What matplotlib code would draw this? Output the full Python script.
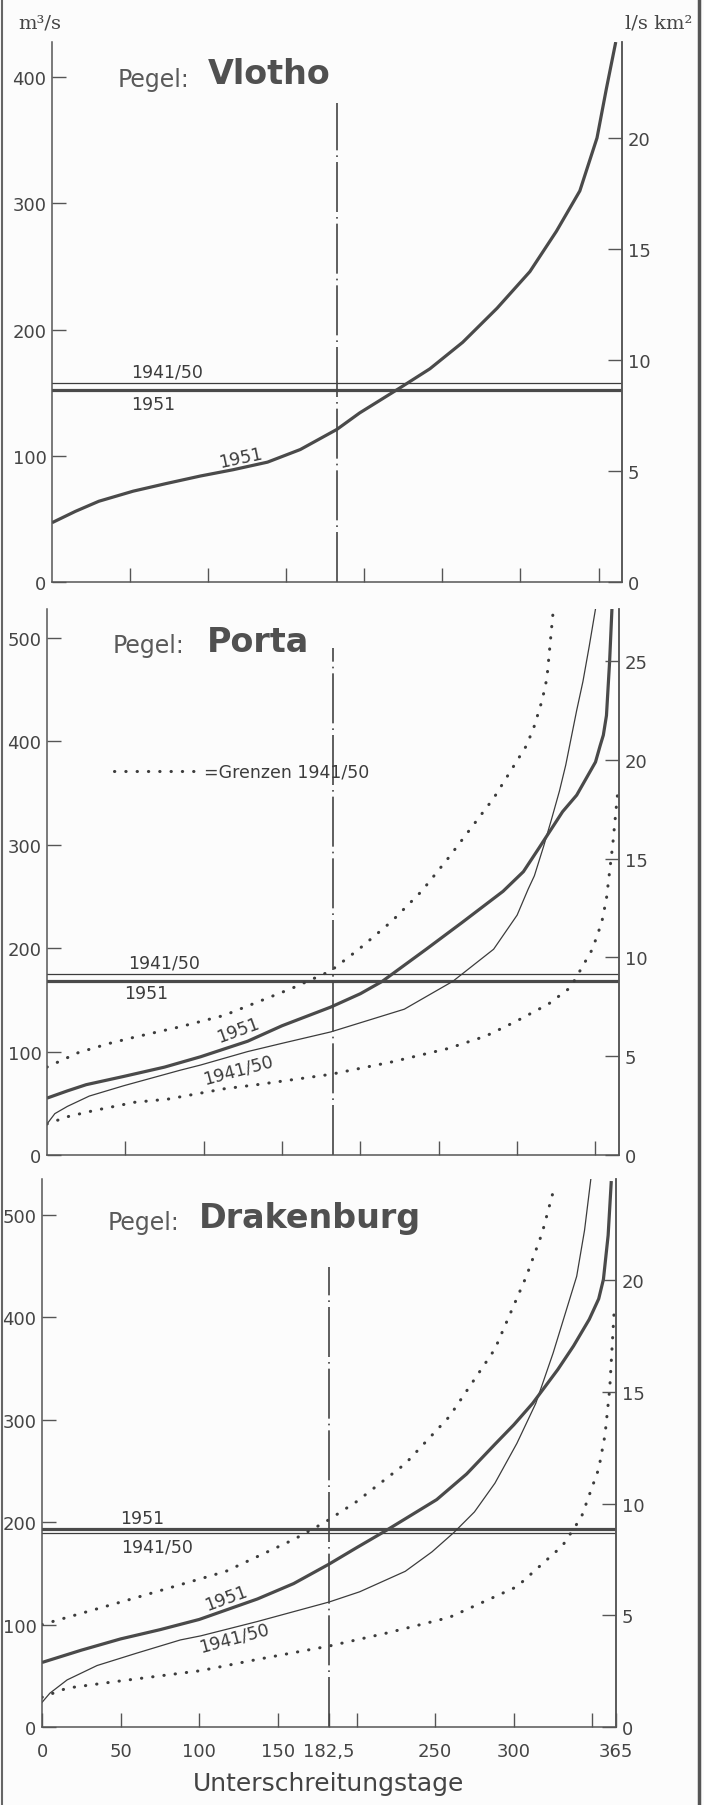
import matplotlib.pyplot as plt
from matplotlib.lines import Line2D

# Dauerlinien: Unterschreitungstage -> Abfluss m3/s
# Vlotho
v51_tage = [0, 15, 30, 52, 73, 95, 116, 138, 159, 182.5, 197, 210, 223, 242, 263, 285, 306, 323, 338, 349, 355, 361]
v51_q = [47, 56, 64, 72, 78, 84, 89, 95, 105, 121, 134, 144, 154, 169, 190, 217, 246, 278, 310, 352, 391, 428]
v_mq51 = 152
v_mq4150 = 158

# Porta
p51_tage = [0, 13, 25, 49, 75, 98, 128, 150, 181, 200, 214, 242, 265, 291, 304, 314, 329, 338, 344, 350, 353, 355, 357, 359, 360.5]
p51_q = [55, 62, 68, 76, 85, 95, 110, 125, 143, 156, 168, 199, 225, 255, 274, 297, 332, 348, 364, 380, 396, 406, 425, 477, 528]
p4150_tage = [0, 5, 13, 27, 49, 85, 98, 128, 150, 181, 228, 259, 285, 300, 307, 311, 317, 322, 327, 331, 338, 342, 346, 350]
p4150_q = [30, 40, 47, 57, 67, 82, 87, 100, 108, 119, 141, 168, 199, 232, 257, 270, 299, 325, 352, 377, 430, 458, 492, 528]
p_unten_tage = [0, 13, 30, 56, 77, 113, 134, 181, 220, 256, 280, 299, 320, 334, 348, 354, 357, 361, 364]
p_unten_q = [30, 37, 43, 51, 54, 64, 68, 78, 90, 103, 115, 129, 146, 162, 199, 225, 248, 300, 348]
p_oben_tage = [0, 20, 40, 56, 85, 113, 156, 181, 199, 220, 239, 256, 285, 306, 311, 316, 319, 323]
p_oben_q = [85, 99, 108, 114, 124, 135, 161, 178, 199, 226, 255, 287, 345, 396, 415, 440, 461, 526]
p_mq51 = 168
p_mq4150 = 175

# Drakenburg
d51_tage = [0, 25, 50, 75, 100, 137, 160, 182.5, 200, 219, 251, 270, 288, 300, 312, 328, 338, 348, 354, 357, 360, 362]
d51_q = [63, 75, 86, 95, 105, 125, 140, 159, 175, 192, 222, 247, 276, 295, 316, 349, 372, 398, 418, 437, 480, 533]
d4150_tage = [0, 5, 16, 35, 60, 88, 101, 137, 182.5, 202, 231, 248, 262, 275, 288, 302, 314, 325, 332, 340, 345, 349]
d4150_q = [24, 33, 46, 60, 72, 85, 89, 103, 122, 132, 152, 171, 190, 210, 238, 277, 316, 365, 400, 440, 485, 535]
d_unten_tage = [0, 16, 50, 101, 137, 182.5, 220, 259, 302, 331, 343, 350, 354, 358, 361, 364]
d_unten_q = [29, 38, 45, 55, 66, 79, 92, 107, 137, 177, 205, 235, 252, 285, 330, 411]
d_oben_tage = [0, 57, 117, 160, 180, 200, 231, 259, 288, 308, 318, 326]
d_oben_q = [100, 125, 152, 183, 200, 220, 257, 303, 369, 440, 482, 528]
d_mq51 = 193
d_mq4150 = 189

# Einzugsgebiete (1000 km2) fuer die rechte Skala l/s km2
flaeche = {"Vlotho": 17.6, "Porta": 19.1, "Drakenburg": 21.8}

W, H = 704, 1806
GRAU = "#4a4a4a"
TICKFONT = ["DejaVu Sans"]

fig = plt.figure(figsize=(W / 100, H / 100), dpi=100)
fig.patch.set_facecolor("#fcfcfc")


def achse(l, r, t, b, ytop, name, lticks, rticks, unten=False):
    ax = fig.add_axes([l / W, 1 - b / H, (r - l) / W, (b - t) / H])
    ax.set_facecolor("none")
    ax.set_xlim(0, 365)
    ax.set_ylim(0, ytop)
    ax.spines["top"].set_visible(False)
    for s in ["left", "bottom", "right"]:
        ax.spines[s].set_color("#555555")
        ax.spines[s].set_linewidth(1.1)
    ax.set_yticks(lticks)
    if unten:
        ax.set_xticks([0, 50, 100, 150, 182.5, 200, 250, 300, 350, 365])
        ax.set_xticklabels(["0", "50", "100", "150", "182,5", "", "250", "300", "", "365"])
    else:
        ax.set_xticks([50, 100, 150, 200, 250, 300, 350])
        ax.set_xticklabels([])
    ax.tick_params(direction="in", length=10, width=1, colors="#555555",
                   labelcolor="#444444", labelsize=13, pad=4)
    ax.tick_params(axis="x", pad=11)
    for lab in ax.get_xticklabels() + ax.get_yticklabels():
        lab.set_family(TICKFONT)
    ax2 = ax.twinx()
    ax2.set_ylim(0, ytop / flaeche[name])
    ax2.set_yticks(rticks)
    for s in ["top", "left", "bottom"]:
        ax2.spines[s].set_visible(False)
    ax2.spines["right"].set_color("#555555")
    ax2.spines["right"].set_linewidth(1.1)
    ax2.tick_params(direction="in", length=10, width=1, colors="#555555",
                    labelcolor="#444444", labelsize=13, pad=4)
    for lab in ax2.get_yticklabels():
        lab.set_family(TICKFONT)
    return ax


def titel(ax, y, name, x_name):
    ax.text(42, y, "Pegel:", fontsize=17, family=["DejaVu Sans"],
            color="#5a5a5a", va="center", ha="left")
    ax.text(x_name, y + 4, name, fontsize=24, family=["DejaVu Sans"],
            fontweight="bold", color="#505050", va="center", ha="left")


def dicke(ax, x, y):
    ax.plot(x, y, color=GRAU, lw=2.3, solid_capstyle="butt",
            solid_joinstyle="round")


def duenn(ax, x, y):
    ax.plot(x, y, color="#3c3c3c", lw=0.9)


def punkte(ax, x, y):
    ax.plot(x, y, color="#3c3c3c", lw=2.2, dashes=(0.1, 3.6),
            dash_capstyle="round")


def mittel(ax, q51, q4150):
    ax.axhline(q51, color=GRAU, lw=2.3)
    ax.axhline(q4150, color="#3c3c3c", lw=0.9)


def strichpunkt(ax, top):
    ax.plot([182.5, 182.5], [0, top], color="#444444", lw=1.2,
            dashes=(30, 3, 1, 3))


def beschrift(ax, x, y, s, rot=0):
    ax.text(x, y, s, fontsize=12.5, family=TICKFONT, color="#3c3c3c",
            rotation=rot, ha="center", va="center", rotation_mode="anchor")


# --- Vlotho
ax1 = achse(52, 622, 43, 583, 428, "Vlotho", [0, 100, 200, 300, 400], [0, 5, 10, 15, 20])
mittel(ax1, v_mq51, v_mq4150)
dicke(ax1, v51_tage, v51_q)
strichpunkt(ax1, 380)
titel(ax1, 399, "Vlotho", 100)
beschrift(ax1, 74, 167, "1941/50")
beschrift(ax1, 65, 141, "1951")
beschrift(ax1, 121, 99, "1951", 12)

# --- Porta
ax2 = achse(47, 619, 610, 1156, 528, "Porta", [0, 100, 200, 300, 400, 500], [0, 5, 10, 15, 20, 25])
mittel(ax2, p_mq51, p_mq4150)
punkte(ax2, p_oben_tage, p_oben_q)
punkte(ax2, p_unten_tage, p_unten_q)
duenn(ax2, p4150_tage, p4150_q)
dicke(ax2, p51_tage, p51_q)
strichpunkt(ax2, 490)
titel(ax2, 493, "Porta", 102)
ax2.plot([43, 98], [371, 371], color="#3c3c3c", lw=2.2, dashes=(0.1, 3.6),
         dash_capstyle="round")
ax2.text(100, 371, "=Grenzen 1941/50", fontsize=12.5, family=TICKFONT,
         color="#3c3c3c", va="center", ha="left")
beschrift(ax2, 75, 186, "1941/50")
beschrift(ax2, 63, 157, "1951")
beschrift(ax2, 122, 121, "1951", 20)
beschrift(ax2, 122, 83, "1941/50", 15)

# --- Drakenburg
ax3 = achse(42, 616, 1180, 1728, 535, "Drakenburg", [0, 100, 200, 300, 400, 500], [0, 5, 10, 15, 20], unten=True)
mittel(ax3, d_mq51, d_mq4150)
punkte(ax3, d_oben_tage, d_oben_q)
punkte(ax3, d_unten_tage, d_unten_q)
duenn(ax3, d4150_tage, d4150_q)
dicke(ax3, d51_tage, d51_q)
strichpunkt(ax3, 449)
titel(ax3, 493, "Drakenburg", 100)
beschrift(ax3, 64, 204, "1951")
beschrift(ax3, 73, 176, "1941/50")
beschrift(ax3, 117, 126, "1951", 20)
beschrift(ax3, 122, 87, "1941/50", 15)

ax3.set_xlabel("Unterschreitungstage", fontsize=18, color="#444444",
               family=["DejaVu Sans"], labelpad=8)

fig.text(18 / W, 1 - 23 / H, "m³/s", fontsize=14, family="DejaVu Serif",
         color="#444444", va="center", ha="left")
fig.text(692 / W, 1 - 23 / H, "l/s km²", fontsize=14, family="DejaVu Serif",
         color="#444444", va="center", ha="right")

# Rand des Scans
fig.add_artist(Line2D([2 / W, 2 / W], [0, 1], color="#666666", lw=1.5))
fig.add_artist(Line2D([699 / W, 699 / W], [0, 1], color="#555555", lw=2.5))

fig.savefig("out.png", dpi=100, facecolor=fig.get_facecolor())
